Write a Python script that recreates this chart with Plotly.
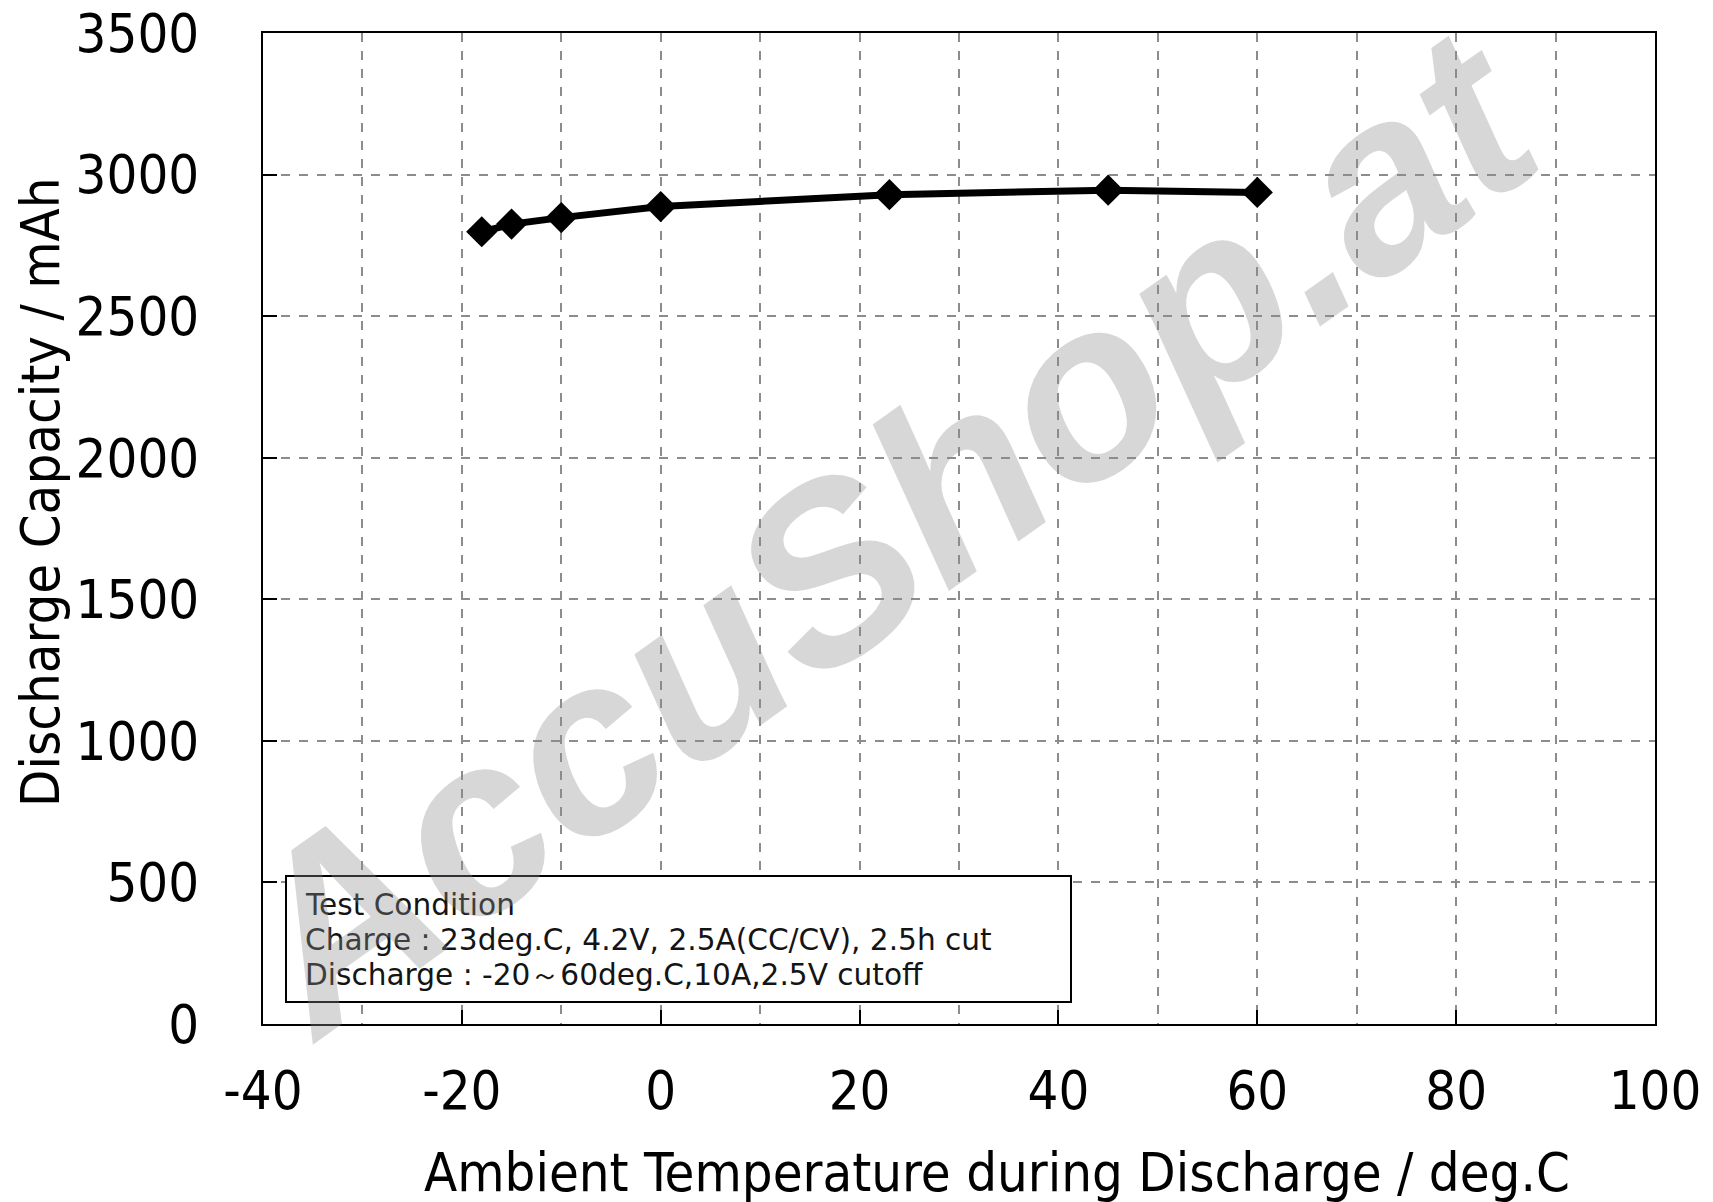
import plotly.graph_objects as go

temps = [-18, -15, -10, 0, 23, 45, 60]
capacity = [2798, 2825, 2848, 2887, 2929, 2945, 2937]

x_ticks = [-40, -20, 0, 20, 40, 60, 80, 100]
y_ticks = [0, 500, 1000, 1500, 2000, 2500, 3000, 3500]

x_title = "Ambient Temperature during Discharge / deg.C"
y_title = "Discharge Capacity / mAh"
box_lines = [
    "Test Condition",
    "Charge : 23deg.C, 4.2V, 2.5A(CC/CV), 2.5h cut",
    "Discharge : -20～60deg.C,10A,2.5V cutoff",
]
watermark = "AccuShop.at"

FONT = "DejaVu Sans Condensed, Open Sans, DejaVu Sans, sans-serif"
BOXFONT = "DejaVu Sans, Verdana, sans-serif"
GRID = "#8c8c8c"

OFF = 8  # page body margin
FW, FH = 1713 - OFF, 1202 - OFF
# plot area in screenshot pixels
L, R, T, B = 263, 1655, 33, 1024
W, H = R - L, B - T


def px(x):
    return (x - L) / W


def py(y):
    return 1 - (y - T) / H


fig = go.Figure()
fig.add_trace(go.Scatter(
    x=temps, y=capacity, mode="lines+markers",
    line=dict(color="black", width=7),
    marker=dict(symbol="diamond", size=24, color="black"),
    showlegend=False,
))

fig.update_layout(
    width=FW, height=FH,
    margin=dict(l=L - OFF, r=1713 - R, t=T - OFF, b=1202 - B),
    paper_bgcolor="white", plot_bgcolor="white",
    font=dict(family=FONT, color="black", size=54),
    xaxis=dict(
        range=[-40, 100], tickvals=x_ticks, ticktext=[str(v) for v in x_ticks],
        showgrid=True, gridcolor=GRID, griddash="dash", gridwidth=2,
        minor=dict(dtick=10, showgrid=True, gridcolor=GRID, griddash="dash", gridwidth=2),
        ticks="inside", ticklen=14, tickwidth=2, tickcolor="black",
        showline=True, linecolor="black", linewidth=2, mirror=True,
        zeroline=False, ticklabelstandoff=18, automargin=False,
        ticklabeloverflow="allow",
        tickfont=dict(size=54),
    ),
    yaxis=dict(
        range=[0, 3500], tickvals=y_ticks, ticktext=[str(v) for v in y_ticks],
        showgrid=True, gridcolor=GRID, griddash="dash", gridwidth=2,
        ticks="inside", ticklen=14, tickwidth=2, tickcolor="black",
        showline=True, linecolor="black", linewidth=2, mirror=True,
        zeroline=False, ticklabelstandoff=51, automargin=False,
        ticklabeloverflow="allow",
        tickfont=dict(size=54),
    ),
)

# axis titles
fig.add_annotation(
    xref="paper", yref="paper", x=px(997), y=py(1172),
    xanchor="center", yanchor="middle", showarrow=False,
    text=x_title, font=dict(family=FONT, size=54, color="black"),
)
fig.add_annotation(
    xref="paper", yref="paper", x=px(40), y=py(492),
    xanchor="center", yanchor="middle", showarrow=False, textangle=-90,
    text=y_title, font=dict(family=FONT, size=54, color="black"),
)

fig.add_shape(
    type="rect", xref="paper", yref="paper",
    x0=px(286), x1=px(1071), y0=py(1002), y1=py(876),
    fillcolor="white", line=dict(color="black", width=2), layer="above",
)

for i, line in enumerate(box_lines):
    fig.add_annotation(
        xref="paper", yref="paper", x=px(303), y=py(905 + 35 * i),
        xanchor="left", yanchor="middle", align="left", showarrow=False,
        text=line,
        font=dict(family=BOXFONT, size=29.6, color="#141414"),
    )

fig.add_annotation(
    xref="paper", yref="paper", x=px(885), y=py(531),
    xanchor="center", yanchor="middle", showarrow=False,
    text=watermark, textangle=-35.5,
    font=dict(family="Liberation Sans, Arial, sans-serif", size=248,
              color="rgba(140,140,140,0.35)", weight="bold", style="italic"),
)

fig.write_html("out.html")
